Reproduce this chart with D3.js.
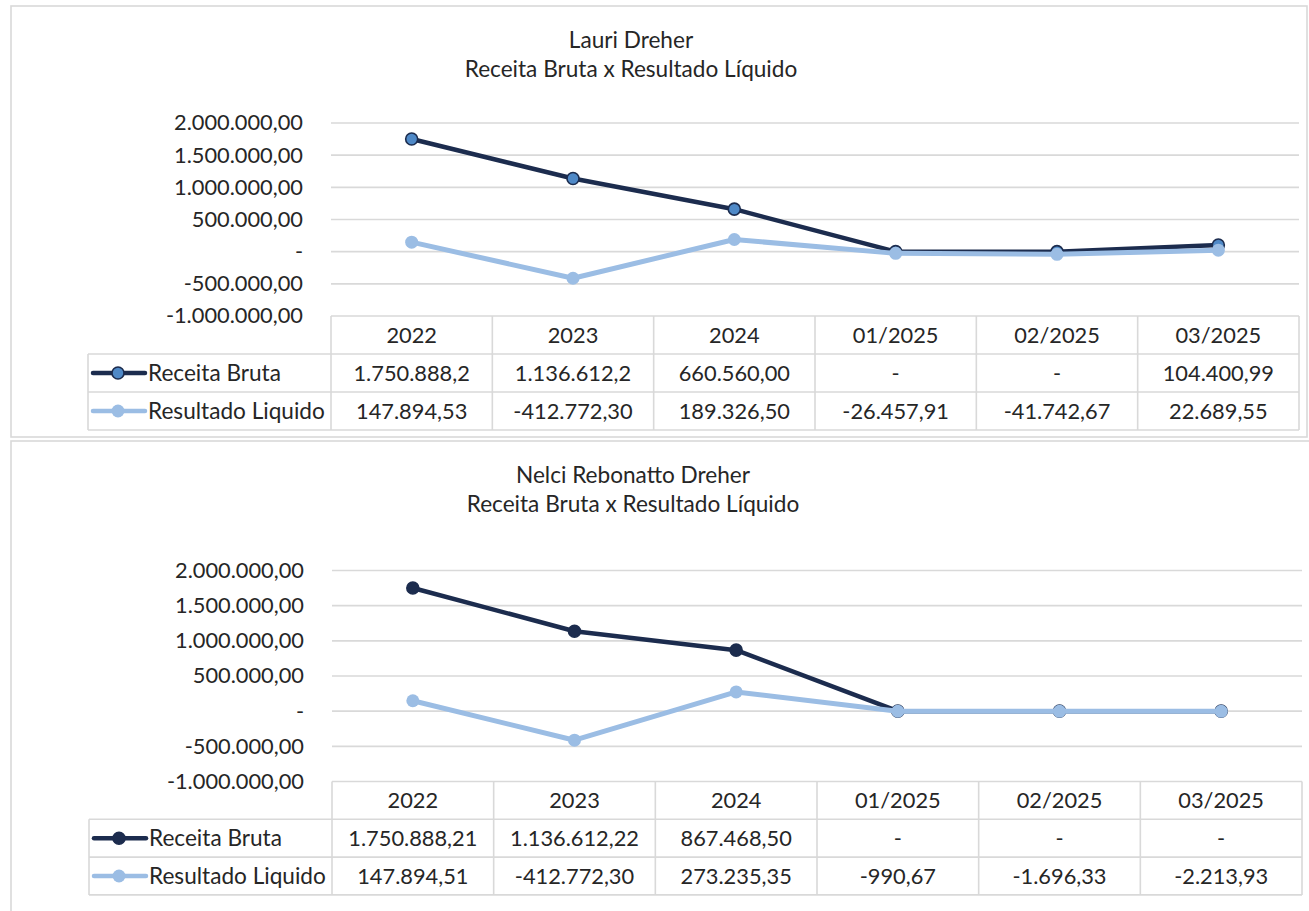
<!DOCTYPE html>
<html>
<head>
<meta charset="utf-8">
<script src="https://cdn.jsdelivr.net/npm/d3@7"></script>
<style>
  html, body { margin: 0; padding: 0; background: #fff; }
  svg { display: block; }
  text { font-family: Lato, "Open Sans", sans-serif; fill: #262626; }
</style>
</head>
<body>
<svg id="chart" width="1309" height="911"></svg>
<script>
// ---------- DATA ----------
const categories = ["2022", "2023", "2024", "01/2025", "02/2025", "03/2025"];
const seriesNames = ["Receita Bruta", "Resultado Liquido"];
const yTicks = [-1000000, -500000, 0, 500000, 1000000, 1500000, 2000000];

const lauriTitle = ["Lauri Dreher", "Receita Bruta x Resultado Líquido"];
const lauriReceita = [1750888.2, 1136612.2, 660560.00, 0, 0, 104400.99];
const lauriResultado = [147894.53, -412772.30, 189326.50, -26457.91, -41742.67, 22689.55];
const lauriReceitaLabels = ["1.750.888,2", "1.136.612,2", "660.560,00", "-", "-", "104.400,99"];
const lauriResultadoLabels = ["147.894,53", "-412.772,30", "189.326,50", "-26.457,91", "-41.742,67", "22.689,55"];

const nelciTitle = ["Nelci Rebonatto Dreher", "Receita Bruta x Resultado Líquido"];
const nelciReceita = [1750888.21, 1136612.22, 867468.50, 0, 0, 0];
const nelciResultado = [147894.51, -412772.30, 273235.35, -990.67, -1696.33, -2213.93];
const nelciReceitaLabels = ["1.750.888,21", "1.136.612,22", "867.468,50", "-", "-", "-"];
const nelciResultadoLabels = ["147.894,51", "-412.772,30", "273.235,35", "-990,67", "-1.696,33", "-2.213,93"];

// ---------- STYLE / LAYOUT ----------
const DARK = "#1c2c4e";
const MID = "#4f89c7";
const LIGHT = "#9bbde4";
const GRID = "#d9d9d9";
const NUM_SIZE = "21.8px";
const TXT_SIZE = "22.6px";

const ptBR = d3.formatLocale({ decimal: ",", thousands: ".", grouping: [3], currency: ["R$", ""], minus: "-" });
const fmt = v => v === 0 ? "-" : ptBR.format(",.2f")(v);

const svg = d3.select("#chart");
svg.append("rect").attr("width", 1309).attr("height", 911).attr("fill", "#fff");

const charts = [
  {
    title: lauriTitle, receita: lauriReceita, resultado: lauriResultado,
    receitaLabels: lauriReceitaLabels, resultadoLabels: lauriResultadoLabels,
    box: [11, 6, 1296, 431], plot: [331, 1299, 123, 316], rowH: 38, legendLeft: 88,
    titleX: 631, titleY: [48, 77], hollow: true
  },
  {
    title: nelciTitle, receita: nelciReceita, resultado: nelciResultado,
    receitaLabels: nelciReceitaLabels, resultadoLabels: nelciResultadoLabels,
    box: [11, 441, 1310, 480], plot: [332, 1302, 570.5, 781.5], rowH: 37.8, legendLeft: 89,
    titleX: 633, titleY: [483, 512], hollow: false
  }
];

charts.forEach(c => {
  const g = svg.append("g");
  const [bx, by, bw, bh] = c.box;
  g.append("rect").attr("x", bx).attr("y", by).attr("width", bw).attr("height", bh)
    .attr("fill", "#fff").attr("stroke", GRID).attr("stroke-width", 1.6);

  // title
  c.title.forEach((t, i) => {
    g.append("text").attr("x", c.titleX).attr("y", c.titleY[i])
      .attr("text-anchor", "middle").style("font-size", TXT_SIZE).text(t);
  });

  const [left, right, top, bottom] = c.plot;
  const x = d3.scaleBand().domain(categories).range([left, right]);
  const y = d3.scaleLinear().domain([-1000000, 2000000]).range([bottom, top]);
  const cx = d => x(d) + x.bandwidth() / 2;

  // gridlines
  g.append("g").selectAll("line").data(yTicks.filter(t => t > -1000000)).join("line")
    .attr("x1", left).attr("x2", right)
    .attr("y1", d => y(d)).attr("y2", d => y(d))
    .attr("stroke", GRID).attr("stroke-width", 1.6);

  // y axis labels
  const yAxis = d3.axisLeft(y).tickValues(yTicks).tickFormat(fmt).tickSize(0).tickPadding(0);
  const ya = g.append("g").attr("transform", `translate(${left - 28},0)`).call(yAxis);
  ya.select(".domain").remove();
  ya.selectAll("text").style("font-size", NUM_SIZE).style("font-family", "Lato, sans-serif")
    .attr("fill", "#262626");

  // lines
  const lineGen = d3.line().x((d, i) => cx(categories[i])).y(d => y(d));
  g.append("path").datum(c.receita).attr("d", lineGen)
    .attr("fill", "none").attr("stroke", DARK).attr("stroke-width", 4.5).attr("stroke-linejoin", "round");
  g.append("g").selectAll("circle").data(c.receita).join("circle")
    .attr("cx", (d, i) => cx(categories[i])).attr("cy", d => y(d)).attr("r", 6)
    .attr("fill", c.hollow ? MID : DARK).attr("stroke", DARK).attr("stroke-width", 1.6);

  g.append("path").datum(c.resultado).attr("d", lineGen)
    .attr("fill", "none").attr("stroke", LIGHT).attr("stroke-width", 5).attr("stroke-linejoin", "round");
  g.append("g").selectAll("circle").data(c.resultado).join("circle")
    .attr("cx", (d, i) => cx(categories[i])).attr("cy", d => y(d)).attr("r", 6.5)
    .attr("fill", LIGHT);

  // data table
  const rh = c.rowH;
  const tb = g.append("g");
  const r0 = bottom, r1 = bottom + rh, r2 = bottom + 2 * rh, r3 = bottom + 3 * rh;
  const tableStroke = s => s.attr("stroke", GRID).attr("stroke-width", 1.6);
  tb.append("line").attr("x1", left).attr("x2", right).attr("y1", r0).attr("y2", r0).call(tableStroke);
  [r1, r2, r3].forEach(r => tb.append("line").attr("x1", c.legendLeft).attr("x2", right).attr("y1", r).attr("y2", r).call(tableStroke));
  tb.append("line").attr("x1", c.legendLeft).attr("x2", c.legendLeft).attr("y1", r1).attr("y2", r3).call(tableStroke);
  categories.forEach(cat => tb.append("line").attr("x1", x(cat)).attr("x2", x(cat)).attr("y1", r0).attr("y2", r3).call(tableStroke));
  tb.append("line").attr("x1", right).attr("x2", right).attr("y1", r0).attr("y2", r3).call(tableStroke);

  const cellText = (txt, xx, yy) => tb.append("text").attr("x", xx).attr("y", yy).attr("dy", "0.36em")
    .attr("text-anchor", "middle").style("font-size", NUM_SIZE).text(txt);
  categories.forEach((cat, i) => {
    cellText(cat, cx(cat), (r0 + r1) / 2);
    cellText(c.receitaLabels[i], cx(cat), (r1 + r2) / 2);
    cellText(c.resultadoLabels[i], cx(cat), (r2 + r3) / 2);
  });

  // legend keys
  const keys = [
    { name: seriesNames[0], y: (r1 + r2) / 2, color: DARK, fill: c.hollow ? MID : DARK, stroke: DARK, r: 6 },
    { name: seriesNames[1], y: (r2 + r3) / 2, color: LIGHT, fill: LIGHT, stroke: "none", r: 6.5 }
  ];
  keys.forEach(k => {
    tb.append("line").attr("x1", c.legendLeft + 5).attr("x2", c.legendLeft + 57)
      .attr("y1", k.y).attr("y2", k.y).attr("stroke", k.color).attr("stroke-width", 4.5).attr("stroke-linecap", "round");
    tb.append("circle").attr("cx", c.legendLeft + 30).attr("cy", k.y).attr("r", k.r)
      .attr("fill", k.fill).attr("stroke", k.stroke).attr("stroke-width", 1.6);
    tb.append("text").attr("x", c.legendLeft + 60).attr("y", k.y).attr("dy", "0.36em")
      .style("font-size", TXT_SIZE).text(k.name);
  });
});
</script>
</body>
</html>
